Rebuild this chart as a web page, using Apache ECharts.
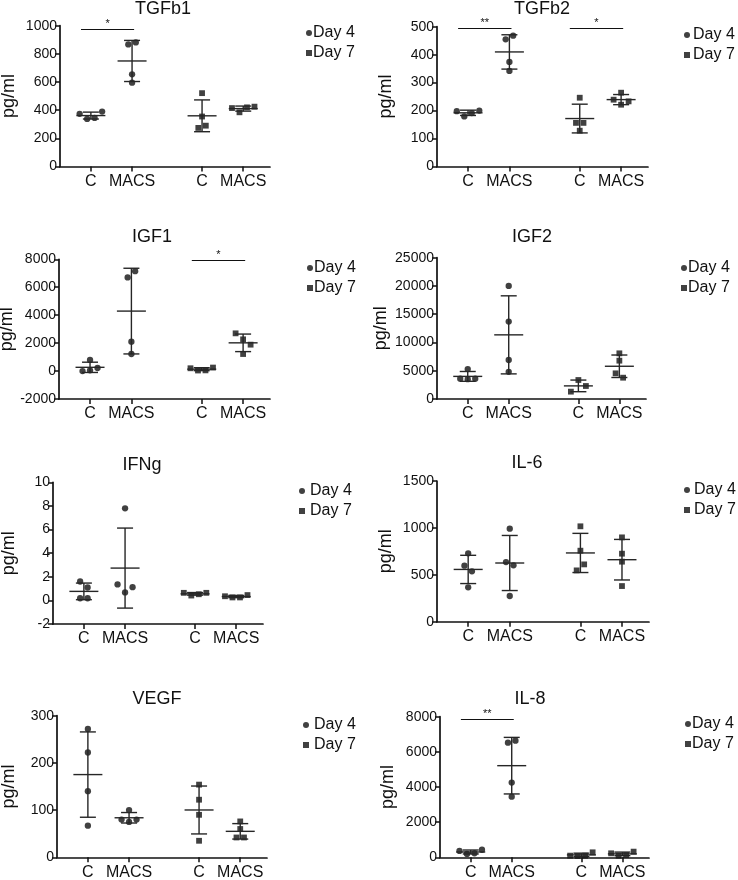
<!DOCTYPE html>
<html><head><meta charset="utf-8">
<script src="https://cdn.jsdelivr.net/npm/echarts@6/dist/echarts.min.js"></script>
<style>html,body{margin:0;padding:0;background:#fff}#chart{width:738px;height:880px}</style>
</head><body><div id="chart"></div>
<script>
// ---------- data ----------
const panelTitles = ['TGFb1', 'TGFb2', 'IGF1', 'IGF2', 'IFNg', 'IL-6', 'VEGF', 'IL-8'];
const groupLabels = ['C', 'MACS', 'C', 'MACS'];
const dayNames = ['Day 4', 'Day 7'];
const groupDay = [0, 0, 1, 1];
const yMin = [0, 0, -2000, 0, -2, 0, 0, 0];
const yMax = [1000, 500, 8000, 25000, 10, 1500, 300, 8000];
const yInterval = [200, 100, 2000, 5000, 2, 500, 100, 2000];

// values per group: [C day4, MACS day4, C day7, MACS day7]
const tgfb1 = [[374, 338, 345, 390], [867, 881, 655, 595], [521, 355, 274, 290], [415, 385, 420, 425]];
const tgfb2 = [[198, 179, 191, 200], [455, 468, 374, 342], [246, 156, 156, 128], [264, 239, 221, 233]];
const igf1 = [[0, 800, 50, 220], [6700, 7150, 2100, 1220], [200, 40, 50, 250], [2700, 2270, 1890, 1220]];
const igf2 = [[3600, 5300, 3500, 3600], [20000, 13700, 6900, 4800], [1300, 3360, 2300], [8080, 6780, 4540, 3770]];
const ifng = [[1.6, 1.09, 0.18, 0.18], [7.8, 1.35, 0.67, 1.12], [0.64, 0.41, 0.52, 0.64], [0.35, 0.25, 0.25, 0.45]];
const il6 = [[729, 597, 537, 366], [992, 636, 601, 274], [1017, 757, 547, 611], [899, 725, 640, 380]];
const vegf = [[272, 222, 140, 67], [80, 100, 75, 80], [154, 122, 90, 35], [76, 60, 42, 42]];
const il8 = [[360, 190, 230, 430], [6520, 6635, 4250, 3450], [95, 76, 95, 284], [227, 95, 133, 322]];
const panelValues = [tgfb1, tgfb2, igf1, igf2, ifng, il6, vegf, il8];

// significance: [panel, fromGroup, toGroup, yValue, label]
const significance = [
  [0, 0, 1, 974, '*'],
  [1, 0, 1, 494, '**'],
  [1, 2, 3, 494, '*'],
  [2, 2, 3, 7900, '*'],
  [7, 0, 1, 7870, '**']
];

// ---------- layout ----------
const groupX = [1, 2, 3.7, 4.7];
const X_MIN = 0.25, X_MAX = 5.35;
const layout = [
  { left: 60, top: 25.7, width: 210, height: 140.8, title: [163, 0], legend: [306, 25], legendPad: -4, nameGap: 42 },
  { left: 437, top: 26.7, width: 211, height: 139.8, title: [542, 0], legend: [684, 27], legendPad: -2, nameGap: 42 },
  { left: 59, top: 259.3, width: 211, height: 139.7, title: [152, 228], legend: [307, 260], legendPad: -4, nameGap: 41 },
  { left: 437, top: 257.7, width: 209, height: 141.3, title: [532, 228], legend: [681, 260], legendPad: -4, nameGap: 47 },
  { left: 53, top: 482.3, width: 210, height: 141.7, title: [142, 456], legend: [299, 483], legendPad: 0, nameGap: 35 },
  { left: 437, top: 481, width: 212, height: 140.7, title: [527, 454], legend: [684, 482], legendPad: -1, nameGap: 42 },
  { left: 57, top: 715.7, width: 210, height: 141.6, title: [157, 690], legend: [303, 717], legendPad: 0, nameGap: 39 },
  { left: 440, top: 716.7, width: 209, height: 140.6, title: [530, 690], legend: [685, 716], legendPad: -4, nameGap: 43 }
];
const INK = '#111';
const BAR = '#262626';
const FONT = '"Liberation Sans", Arial, Helvetica, sans-serif';
const MARK = 6.3, SPREAD = 7.5, CLUSTER = 6.5;

function meanSd(arr) {
  const m = arr.reduce((a, b) => a + b, 0) / arr.length;
  const v = arr.reduce((a, b) => a + (b - m) * (b - m), 0) / (arr.length - 1);
  return [m, Math.sqrt(v)];
}

// spread overlapping points horizontally (pixel offsets) like a dot plot
function spreadOffsets(vals, pxPerUnit) {
  const idx = vals.map((v, i) => i).sort((a, b) => vals[b] - vals[a]);
  const offs = new Array(vals.length).fill(0);
  let cluster = [idx[0]];
  const flush = () => {
    const members = cluster.slice().sort((a, b) => a - b);
    const n = members.length;
    members.forEach((mi, k) => { offs[mi] = (k - (n - 1) / 2) * SPREAD; });
  };
  for (let k = 1; k < idx.length; k++) {
    const prev = idx[k - 1], cur = idx[k];
    if ((vals[prev] - vals[cur]) * pxPerUnit < CLUSTER) cluster.push(cur);
    else { flush(); cluster = [cur]; }
  }
  flush();
  return offs;
}

function renderErr(params, api) {
  const x = api.value(0), m = api.value(1), s = api.value(2);
  const c = api.coord([x, m]);
  const hi = api.coord([x, m + s]);
  const lo = api.coord([x, m - s]);
  const st = { stroke: BAR, lineWidth: 1.4, fill: null };
  return {
    type: 'group', children: [
      { type: 'line', shape: { x1: c[0] - 14.5, y1: c[1], x2: c[0] + 14.5, y2: c[1] }, style: st },
      { type: 'line', shape: { x1: c[0], y1: hi[1], x2: c[0], y2: lo[1] }, style: st },
      { type: 'line', shape: { x1: c[0] - 8, y1: hi[1], x2: c[0] + 8, y2: hi[1] }, style: st },
      { type: 'line', shape: { x1: c[0] - 8, y1: lo[1], x2: c[0] + 8, y2: lo[1] }, style: st }
    ]
  };
}

const grids = [], xAxes = [], yAxes = [], titles = [], legends = [], series = [];

panelTitles.forEach((name, p) => {
  const L = layout[p];
  grids.push({ left: L.left, top: L.top, width: L.width, height: L.height, containLabel: false, outerBoundsMode: 'none' });
  xAxes.push({
    gridIndex: p, type: 'value', min: X_MIN, max: X_MAX,
    axisLine: { show: true, onZero: false, lineStyle: { color: INK, width: 1.7 } },
    splitLine: { show: false },
    axisTick: { show: true, customValues: groupX, length: 5, lineStyle: { color: INK, width: 1.5 } },
    axisLabel: {
      show: true, customValues: groupX, margin: 7, fontSize: 16, color: INK, fontFamily: FONT,
      formatter: v => { const k = groupX.findIndex(g => Math.abs(g - v) < 1e-6); return k >= 0 ? groupLabels[k] : ''; }
    }
  });
  yAxes.push({
    gridIndex: p, type: 'value', min: yMin[p], max: yMax[p], interval: yInterval[p],
    axisLine: { show: true, lineStyle: { color: INK, width: 1.7 } },
    axisTick: { show: true, length: 5, lineStyle: { color: INK, width: 1.5 } },
    axisLabel: { fontSize: 14, color: INK, margin: 3, fontFamily: FONT, formatter: v => String(v) },
    splitLine: { show: false },
    name: 'pg/ml', nameLocation: 'middle', nameGap: L.nameGap,
    nameTextStyle: { fontSize: 18, color: INK, fontFamily: FONT }
  });
  titles.push({
    text: name, left: L.title[0], top: L.title[1], textAlign: 'center', padding: 0,
    textStyle: { fontSize: 18, fontWeight: 'normal', color: INK, fontFamily: FONT }
  });
  legends.push({
    left: L.legend[0], top: L.legend[1], orient: 'vertical', padding: 0,
    itemWidth: 6, itemHeight: 6, itemGap: 4, selectedMode: false,
    textStyle: { fontSize: 16, color: INK, fontFamily: FONT, padding: [0, 0, 0, L.legendPad] },
    data: [{ name: dayNames[0], icon: 'circle' }, { name: dayNames[1], icon: 'rect' }]
  });

  const pxPerUnit = L.height / (yMax[p] - yMin[p]);
  const vals = panelValues[p];
  const dayData = [[], []];
  const errData = [];
  vals.forEach((g, gi) => {
    const offs = spreadOffsets(g, pxPerUnit);
    g.forEach((v, i) => {
      dayData[groupDay[gi]].push({ value: [groupX[gi], v], symbolOffset: [offs[i], 0] });
    });
    const ms = meanSd(g);
    errData.push([groupX[gi], ms[0], ms[1]]);
  });

  series.push({
    name: dayNames[0], type: 'scatter', xAxisIndex: p, yAxisIndex: p,
    symbol: 'circle', symbolSize: MARK, itemStyle: { color: INK }, data: dayData[0], z: 3
  });
  series.push({
    name: dayNames[1], type: 'scatter', xAxisIndex: p, yAxisIndex: p,
    symbol: 'rect', symbolSize: MARK - 0.5, itemStyle: { color: INK }, data: dayData[1], z: 3
  });

  const sigs = significance.filter(s => s[0] === p).map(s => [
    { name: s[4], coord: [groupX[s[1]] - 0.24, s[3]] },
    { coord: [groupX[s[2]] + 0.05, s[3]] }
  ]);
  series.push({
    name: 'sd' + p, type: 'custom', xAxisIndex: p, yAxisIndex: p, renderItem: renderErr,
    encode: { x: 0, y: 1 }, data: errData, z: 4, silent: true,
    markLine: {
      silent: true, symbol: ['none', 'none'], animation: false,
      lineStyle: { color: INK, width: 1.2, type: 'solid' },
      label: { show: true, position: 'middle', formatter: '{b}', fontSize: 11, color: INK, distance: 0 },
      emphasis: { disabled: true },
      data: sigs
    }
  });
});

const chart = echarts.init(document.getElementById('chart'), null, { renderer: 'canvas' });
chart.setOption({
  animation: false,
  backgroundColor: '#fff',
  textStyle: { fontFamily: FONT },
  title: titles, legend: legends, grid: grids, xAxis: xAxes, yAxis: yAxes, series: series
});
</script></body></html>
